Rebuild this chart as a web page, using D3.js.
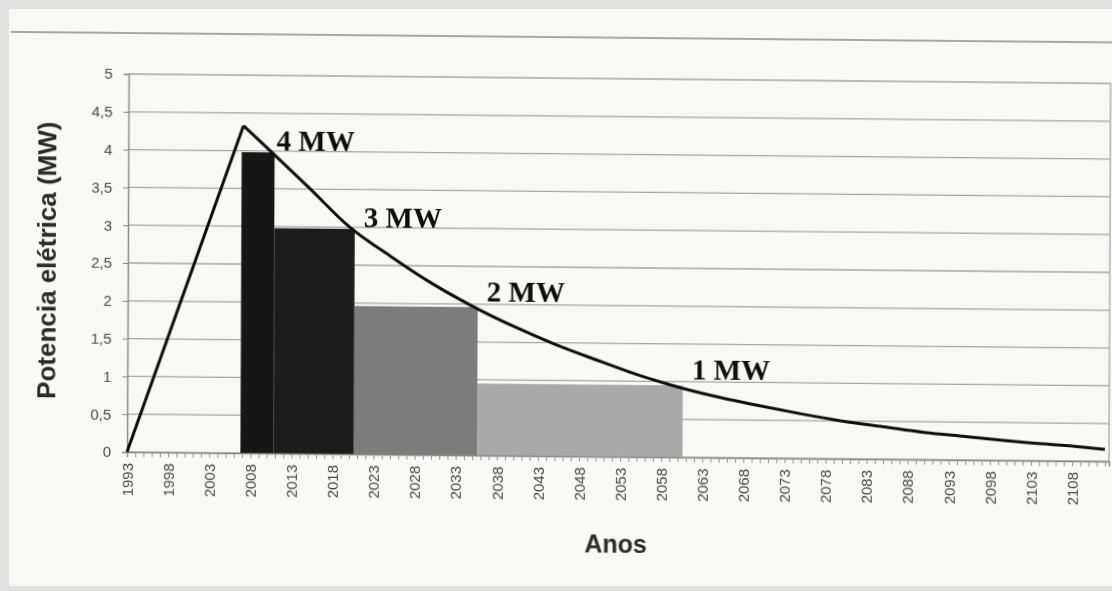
<!DOCTYPE html>
<html>
<head>
<meta charset="utf-8">
<script src="https://cdn.jsdelivr.net/npm/d3@7"></script>
<style>
  body { margin: 0; background: #e2e2e2; }
  svg { display: block; }
</style>
</head>
<body>
<div id="chart-area"></div>
<script>
// power curve (MW per year)
var years = [1993, 2007, 2010, 2015, 2020, 2025, 2030, 2035, 2040, 2045, 2050, 2055,
  2060, 2065, 2070, 2075, 2080, 2085, 2090, 2095, 2100, 2105, 2110, 2112];
var power = [0, 4.33, 4.03, 3.52, 3.00, 2.62, 2.27, 1.97, 1.71, 1.48, 1.28, 1.09,
  0.93, 0.80, 0.69, 0.59, 0.50, 0.43, 0.36, 0.31, 0.26, 0.22, 0.18, 0.16];
var peakYear = 2007;

// stepped blocks under the curve
var blockLabel = ["4 MW", "3 MW", "2 MW", "1 MW"];
var blockStart = [2006.8, 2010.8, 2020.6, 2035.6];
var blockEnd = [2010.8, 2020.6, 2035.6, 2060.6];
var blockValue = [3.98, 2.98, 1.96, 0.95];

var yTicks = [0, 0.5, 1, 1.5, 2, 2.5, 3, 3.5, 4, 4.5, 5];
var labelEvery = 5;

var width = 1112;
var height = 591;
var margin = { left: 127, right: 3, top: 74, bottom: 139 };

var svg = d3.select("#chart-area")
  .append("svg")
  .attr("width", width)
  .attr("height", height);

var defs = svg.append("defs");
defs.append("filter")
  .attr("id", "scan")
  .append("feGaussianBlur")
  .attr("stdDeviation", 0.45);

// page of the scan
svg.append("rect")
  .attr("x", 9)
  .attr("y", 9)
  .attr("width", width - 9)
  .attr("height", 577)
  .attr("fill", "#f8f8f7");

// the scanned chart is slightly tilted
var g = svg.append("g")
  .attr("filter", "url(#scan)")
  .attr("transform", "translate(127,452) rotate(0.25) skewY(0.3) translate(-127,-452)");

var x = d3.scaleLinear()
  .domain([1993, 2112.5])
  .range([margin.left, width - margin.right]);

var y = d3.scaleLinear()
  .domain([0, 5])
  .range([height - margin.bottom, margin.top]);

var color = d3.scaleOrdinal()
  .domain(blockLabel)
  .range(["#121212", "#1e1e1e", "#7b7b7b", "#a9a9a9"]);

// top border line of the figure
g.append("line")
  .attr("x1", 9).attr("x2", width)
  .attr("y1", 33).attr("y2", 33)
  .attr("stroke", "#8c8c8c")
  .attr("stroke-width", 1.5);

// gridlines
g.append("g")
  .selectAll("line")
  .data(yTicks)
  .enter().append("line")
  .attr("x1", x.range()[0])
  .attr("x2", x.range()[1])
  .attr("y1", function(d) { return y(d); })
  .attr("y2", function(d) { return y(d); })
  .attr("stroke", "#a6a6a6")
  .attr("stroke-width", 1.3);

// right border of plot
g.append("line")
  .attr("x1", x.range()[1]).attr("x2", x.range()[1])
  .attr("y1", y(5)).attr("y2", y(0))
  .attr("stroke", "#a6a6a6")
  .attr("stroke-width", 1.3);

// blocks
var blocks = blockLabel.map(function(d, i) {
  return { label: d, start: blockStart[i], end: blockEnd[i], value: blockValue[i] };
});

g.append("g")
  .selectAll("rect")
  .data(blocks)
  .enter().append("rect")
  .attr("x", function(d) { return x(d.start); })
  .attr("width", function(d) { return x(d.end) - x(d.start); })
  .attr("y", function(d) { return y(d.value); })
  .attr("height", function(d) { return y(0) - y(d.value); })
  .attr("fill", function(d) { return color(d.label); });

// axes
var yAxisGroup = g.append("g")
  .attr("transform", "translate(" + margin.left + ",0)")
  .call(d3.axisLeft(y)
    .tickValues(yTicks)
    .tickSize(5)
    .tickPadding(11)
    .tickFormat(function(d) { return String(d).replace(".", ","); }));

yAxisGroup.select(".domain").attr("stroke", "#8a8a8a").attr("stroke-width", 1.5);
yAxisGroup.selectAll(".tick line").attr("stroke", "#8a8a8a");
yAxisGroup.selectAll("text")
  .attr("fill", "#4a4a4a")
  .style("font-family", "Liberation Sans, Arial, sans-serif")
  .style("font-size", "15px");

var xAxisGroup = g.append("g")
  .attr("transform", "translate(0," + y(0) + ")")
  .call(d3.axisBottom(x)
    .tickValues(d3.range(1993, 2113))
    .tickSize(5)
    .tickFormat(function(d) { return (d - 1993) % labelEvery === 0 ? d : ""; }));

xAxisGroup.select(".domain").attr("stroke", "#8a8a8a").attr("stroke-width", 1.5);
xAxisGroup.selectAll(".tick line").attr("stroke", "#999");
xAxisGroup.selectAll("text")
  .attr("transform", "rotate(-90)")
  .attr("x", -11)
  .attr("y", 0)
  .attr("dy", "0.35em")
  .style("text-anchor", "end")
  .attr("fill", "#4a4a4a")
  .style("font-family", "Liberation Sans, Arial, sans-serif")
  .style("font-size", "15px");

// power curve
var pts = years.map(function(d, i) { return { year: d, mw: power[i] }; });

var rise = d3.line()
  .x(function(d) { return x(d.year); })
  .y(function(d) { return y(d.mw); });

var decay = d3.line()
  .curve(d3.curveMonotoneX)
  .x(function(d) { return x(d.year); })
  .y(function(d) { return y(d.mw); });

g.append("path")
  .attr("d", rise(pts.filter(function(d) { return d.year <= peakYear; })))
  .attr("fill", "none")
  .attr("stroke", "#111")
  .attr("stroke-width", 3)
  .attr("stroke-linejoin", "miter");

g.append("path")
  .attr("d", decay(pts.filter(function(d) { return d.year >= peakYear; })))
  .attr("fill", "none")
  .attr("stroke", "#111")
  .attr("stroke-width", 3);

// block labels
g.append("g")
  .selectAll("text")
  .data(blocks)
  .enter().append("text")
  .attr("x", function(d, i) { return x(d.end) + (i === 0 ? 2 : 9); })
  .attr("y", function(d, i) { return y(d.value) - (i < 2 ? 2 : 6); })
  .text(function(d) { return d.label; })
  .attr("fill", "#111")
  .style("font-family", "Liberation Serif, Times New Roman, serif")
  .style("font-weight", "bold")
  .style("font-size", "29px");

// axis titles
g.append("text")
  .attr("transform", "translate(55,261) rotate(-90)")
  .attr("text-anchor", "middle")
  .text("Potencia elétrica (MW)")
  .attr("fill", "#2a2a2a")
  .style("font-family", "Liberation Sans, Arial, sans-serif")
  .style("font-weight", "bold")
  .style("font-size", "26px");

g.append("text")
  .attr("x", 616)
  .attr("y", 548)
  .attr("text-anchor", "middle")
  .text("Anos")
  .attr("fill", "#2a2a2a")
  .style("font-family", "Liberation Sans, Arial, sans-serif")
  .style("font-weight", "bold")
  .style("font-size", "25px");
</script>
</body>
</html>
